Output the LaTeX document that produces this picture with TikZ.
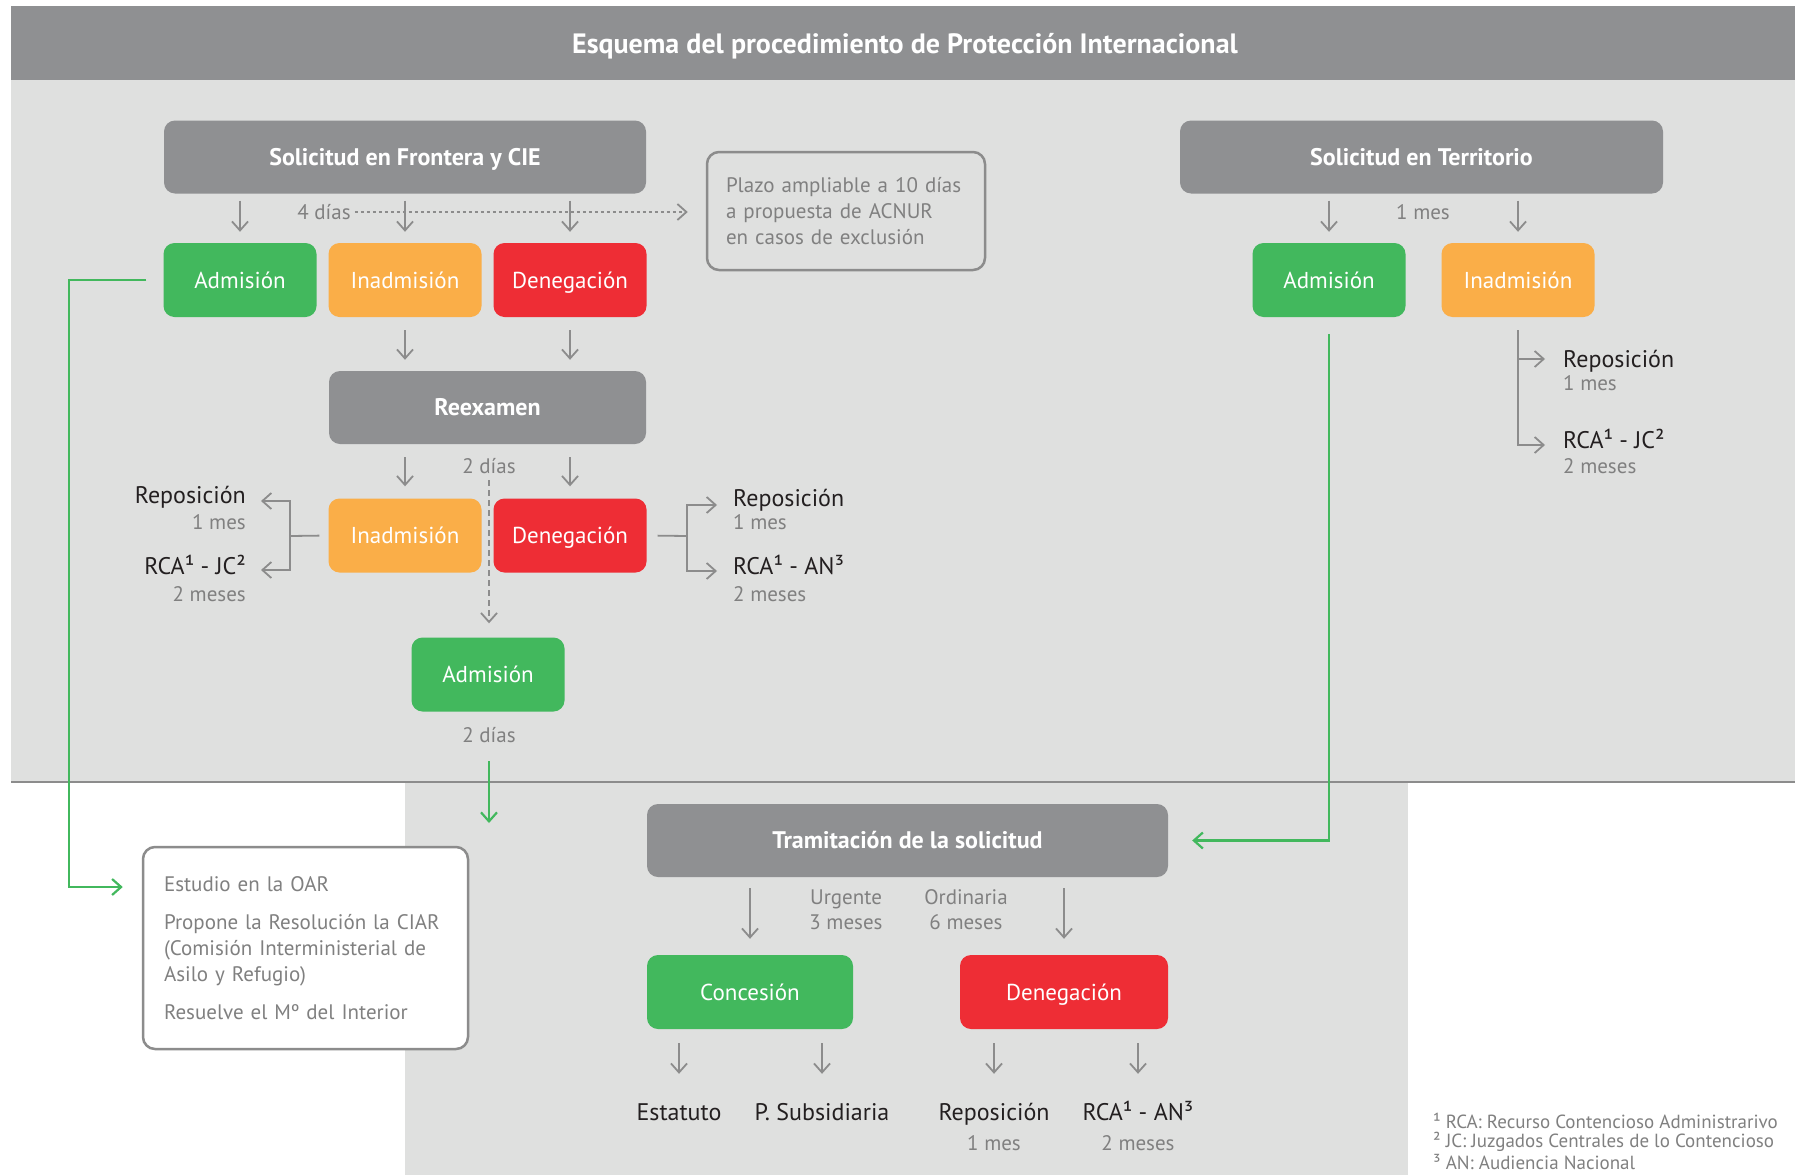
\documentclass[tikz,border=0pt]{standalone}
\usepackage{fontspec}
\setmainfont{PT Sans}
\usetikzlibrary{calc,arrows.meta,positioning}

\definecolor{panel}{RGB}{143,144,146}
\definecolor{backdrop}{RGB}{223,224,223}
\definecolor{okgreen}{RGB}{66,184,93}
\definecolor{warnorange}{RGB}{250,174,72}
\definecolor{denyred}{RGB}{238,45,53}
\definecolor{muted}{RGB}{128,128,128}
\definecolor{arrowgray}{RGB}{140,140,140}
\definecolor{ink}{RGB}{35,31,32}

\makeatletter
\pgfkeys{
  /flow/.cd,
  id/.store in=\flow@id,
  at/.store in=\flow@position,
  gap/.store in=\flow@gap,
  box/.style={},
}
\newcommand{\stage}[2][]{
  \pgfkeys{/flow/.cd,box/.style={},#1}
  \node[stage box,/flow/box] (\flow@id) at \flow@position {#2};
}
% appeal with its term printed underneath
\newcommand{\remedy}[3][]{
  \pgfkeys{/flow/.cd,box/.style={},gap=27,#1}
  \node[remedy,/flow/box] (\flow@id) at \flow@position {#2};
  \path \flow@position ++(0,\flow@gap) coordinate (\flow@id--spot);
  \node[term,/flow/box] (\flow@id--term) at (\flow@id--spot) {#3};
}
\makeatother

\begin{document}
\begin{tikzpicture}[
    x=1pt,y=-1pt,
    stage box/.style={rounded corners=11pt,minimum width=153pt,minimum height=74pt,inner sep=0pt,text height=17pt,text depth=1pt,text=white,font=\fontsize{23}{27}\selectfont},
    phase/.style={stage box,fill=panel,minimum height=73pt,font=\bfseries\fontsize{24}{28}\selectfont},
    admit/.style={fill=okgreen},
    reject/.style={fill=warnorange},
    deny/.style={fill=denyred},
    remedy/.style={inner sep=0pt,text height=17pt,text depth=1pt,text=ink,font=\fontsize{24}{28}\selectfont},
    term/.style={inner sep=0pt,text height=15pt,text depth=1pt,text=muted,font=\fontsize{21}{25}\selectfont},
    note box/.style={draw=arrowgray,line width=2.5pt,rounded corners=12pt,inner ysep=0pt,align=left,text=muted,font=\fontsize{21}{26}\selectfont},
    footnote/.style={inner sep=0pt,text=muted,font=\fontsize{19}{22}\selectfont},
    transition/.style={draw=arrowgray,line width=1.8pt,-{Straight Barb[length=9pt,width=16pt]}},
    green transition/.style={transition,draw=okgreen,line width=2.2pt},
    fork/.style={draw=arrowgray,line width=1.8pt},
  ]

  \useasboundingbox (0,0) rectangle (1795,1175);
  \fill[white] (0,0) rectangle (1795,1175);
  \fill[panel] (11,6) rectangle (1795,80);
  \fill[backdrop] (11,80) rectangle (1795,782);
  \fill[backdrop] (405,782) rectangle (1408,1175);
  \draw[arrowgray,line width=1.5pt] (11,782) -- (1795,782);
  \node[text=white,text height=21pt,text depth=1pt,font=\bfseries\fontsize{28}{32}\selectfont] (title) at (905,43) {Esquema del procedimiento de Protección Internacional};

  % border and CIE
  \stage[id=frontera,at={(405,157)},box/.style={phase,minimum width=482pt}]{Solicitud en Frontera y CIE}
  \stage[id=frontera-admision,at={(240,280)},box/.style={admit}]{Admisión}
  \stage[id=frontera-inadmision,at={(405,280)},box/.style={reject}]{Inadmisión}
  \stage[id=frontera-denegacion,at={(570,280)},box/.style={deny}]{Denegación}
  \foreach \m in {frontera-admision,frontera-inadmision,frontera-denegacion} {
    \draw[transition,shorten <=7pt,shorten >=11pt] (frontera.south -| \m) -- (\m.north);
  }

  \node[term] (frontera-plazo) at (324,212) {4 días};
  \node[note box,text width=240pt,minimum height=118pt,inner xsep=19pt] (plazo) at (846,211) {Plazo ampliable a 10 días\\a propuesta de ACNUR\\en casos de exclusión};
  \draw[transition,dash pattern=on 3pt off 3pt,shorten <=4pt,shorten >=18pt] (frontera-plazo.east) -- (frontera-plazo.east -| plazo.west);

  \stage[id=reexamen,at={(487.5,407.5)},box/.style={phase,minimum width=317pt}]{Reexamen}
  \foreach \m in {frontera-inadmision,frontera-denegacion} {
    \draw[transition,shorten <=13pt,shorten >=11pt] (\m.south) -- (\m.south |- reexamen.north);
  }

  \stage[id=reexamen-inadmision,at={(405,535.5)},box/.style={reject}]{Inadmisión}
  \stage[id=reexamen-denegacion,at={(570,535.5)},box/.style={deny}]{Denegación}
  \foreach \m in {reexamen-inadmision,reexamen-denegacion} {
    \draw[transition,shorten <=13pt,shorten >=12pt] (reexamen.south -| \m) -- (\m.north);
  }
  \node[term] (reexamen-plazo) at (489,466) {2 días};
  \stage[id=reexamen-admision,at={(488,674.5)},box/.style={admit}]{Admisión}
  \draw[transition,dash pattern=on 6pt off 4pt,shorten <=6pt,shorten >=14pt] (reexamen-plazo.south) -- (reexamen-plazo.south |- reexamen-admision.north);

  \node[term] (admision-plazo) at (489,735) {2 días};
  \coordinate (tramite-entrada) at (489,823);
  \draw[green transition,shorten <=18pt] (admision-plazo.south) -- (tramite-entrada);

  % appeals after re-examination
  \remedy[id=reexamen-reposicion-i,at={(246,495)},box/.style={anchor=east}]{Reposición}{1 mes}
  \remedy[id=reexamen-rca-i,at={(246,566)},box/.style={anchor=east},gap=28]{RCA¹ - JC²}{2 meses}
  \coordinate (fork-i) at (290,536);
  \draw[fork,shorten <=9pt] (reexamen-inadmision.west) -- (fork-i);
  \draw[transition,shorten >=15pt] (fork-i) |- ([yshift=-6pt]reexamen-reposicion-i.east);
  \draw[transition,shorten >=15pt] (fork-i) |- ([yshift=-4pt]reexamen-rca-i.east);

  \remedy[id=reexamen-reposicion-d,at={(733,498)},box/.style={anchor=west},gap=24]{Reposición}{1 mes}
  \remedy[id=reexamen-rca-d,at={(733,566)},box/.style={anchor=west},gap=28]{RCA¹ - AN³}{2 meses}
  \coordinate (fork-d) at (687,536);
  \draw[fork,shorten <=11pt] (reexamen-denegacion.east) -- (fork-d);
  \draw[transition,shorten >=16pt] (fork-d) |- ([yshift=-7pt]reexamen-reposicion-d.west);
  \draw[transition,shorten >=16pt] (fork-d) |- ([yshift=-5pt]reexamen-rca-d.west);

  % territory
  \stage[id=territorio,at={(1421.5,157)},box/.style={phase,minimum width=483pt}]{Solicitud en Territorio}
  \stage[id=territorio-admision,at={(1329,280)},box/.style={admit}]{Admisión}
  \stage[id=territorio-inadmision,at={(1518,280)},box/.style={reject}]{Inadmisión}
  \foreach \m in {territorio-admision,territorio-inadmision} {
    \draw[transition,shorten <=7pt,shorten >=11pt] (territorio.south -| \m) -- (\m.north);
  }
  \node[term] (territorio-plazo) at (1423,212) {1 mes};

  \remedy[id=territorio-reposicion,at={(1563,359)},box/.style={anchor=west},gap=24]{Reposición}{1 mes}
  \remedy[id=territorio-rca,at={(1563,440)},box/.style={anchor=west},gap=26]{RCA¹ - JC²}{2 meses}
  \draw[transition,shorten <=13pt,shorten >=18pt] (territorio-inadmision.south) |- (territorio-reposicion.west);
  \draw[transition,shorten <=13pt,shorten >=18pt] (territorio-inadmision.south) |- ([yshift=-5pt]territorio-rca.west);

  % processing
  \stage[id=tramite,at={(907.5,840.5)},box/.style={phase,minimum width=521pt}]{Tramitación de la solicitud}
  \draw[green transition,shorten <=17pt,shorten >=24pt] (territorio-admision.south) |- (tramite.east);

  \stage[id=concesion,at={(750,992)},box/.style={admit,minimum width=206pt}]{Concesión}
  \stage[id=denegacion,at={(1064,992)},box/.style={deny,minimum width=208pt}]{Denegación}
  \foreach \m in {concesion,denegacion} {
    \draw[transition,shorten <=11pt,shorten >=16pt] (tramite.south -| \m) -- (\m.north);
  }
  \node[inner sep=0pt,text=muted,font=\fontsize{21}{25}\selectfont,align=center] (urgente) at (846,910) {Urgente\\3 meses};
  \node[inner sep=0pt,text=muted,font=\fontsize{21}{25}\selectfont,align=center] (ordinaria) at (966,910) {Ordinaria\\6 meses};

  \node[remedy] (estatuto) at (679,1112) {Estatuto};
  \node[remedy] (subsidiaria) at (822,1112) {P. Subsidiaria};
  \remedy[id=reposicion,at={(994,1112)},gap=31]{Reposición}{1 mes}
  \remedy[id=rca,at={(1138,1112)},gap=31]{RCA¹ - AN³}{2 meses}
  \foreach \m/\s in {estatuto/concesion,subsidiaria/concesion,reposicion/denegacion,rca/denegacion} {
    \draw[transition,shorten <=14pt,shorten >=29pt] (\s.south -| \m) -- (\m.north);
  }

  \node[note box,fill=white,text width=283pt,minimum height=202pt,inner xsep=21pt] (oar) at (305.5,948) {Estudio en la OAR\\[12pt]Propone la Resolución la CIAR\\(Comisión Interministerial de\\Asilo y Refugio)\\[12pt]Resuelve el Mº del Interior};
  \draw[green transition,shorten <=17pt,shorten >=19pt] (frontera-admision.west) -- ++(-94,0) |- ([yshift=61pt]oar.west);

  \node[footnote,anchor=west] (nota-rca) at (1433,1121) {¹ RCA: Recurso Contencioso Administrarivo};
  \node[footnote,anchor=west] (nota-jc) at (1433,1142) {² JC: Juzgados Centrales de lo Contencioso};
  \node[footnote,anchor=west] (nota-an) at (1433,1162) {³ AN: Audiencia Nacional};

\end{tikzpicture}
\end{document}
